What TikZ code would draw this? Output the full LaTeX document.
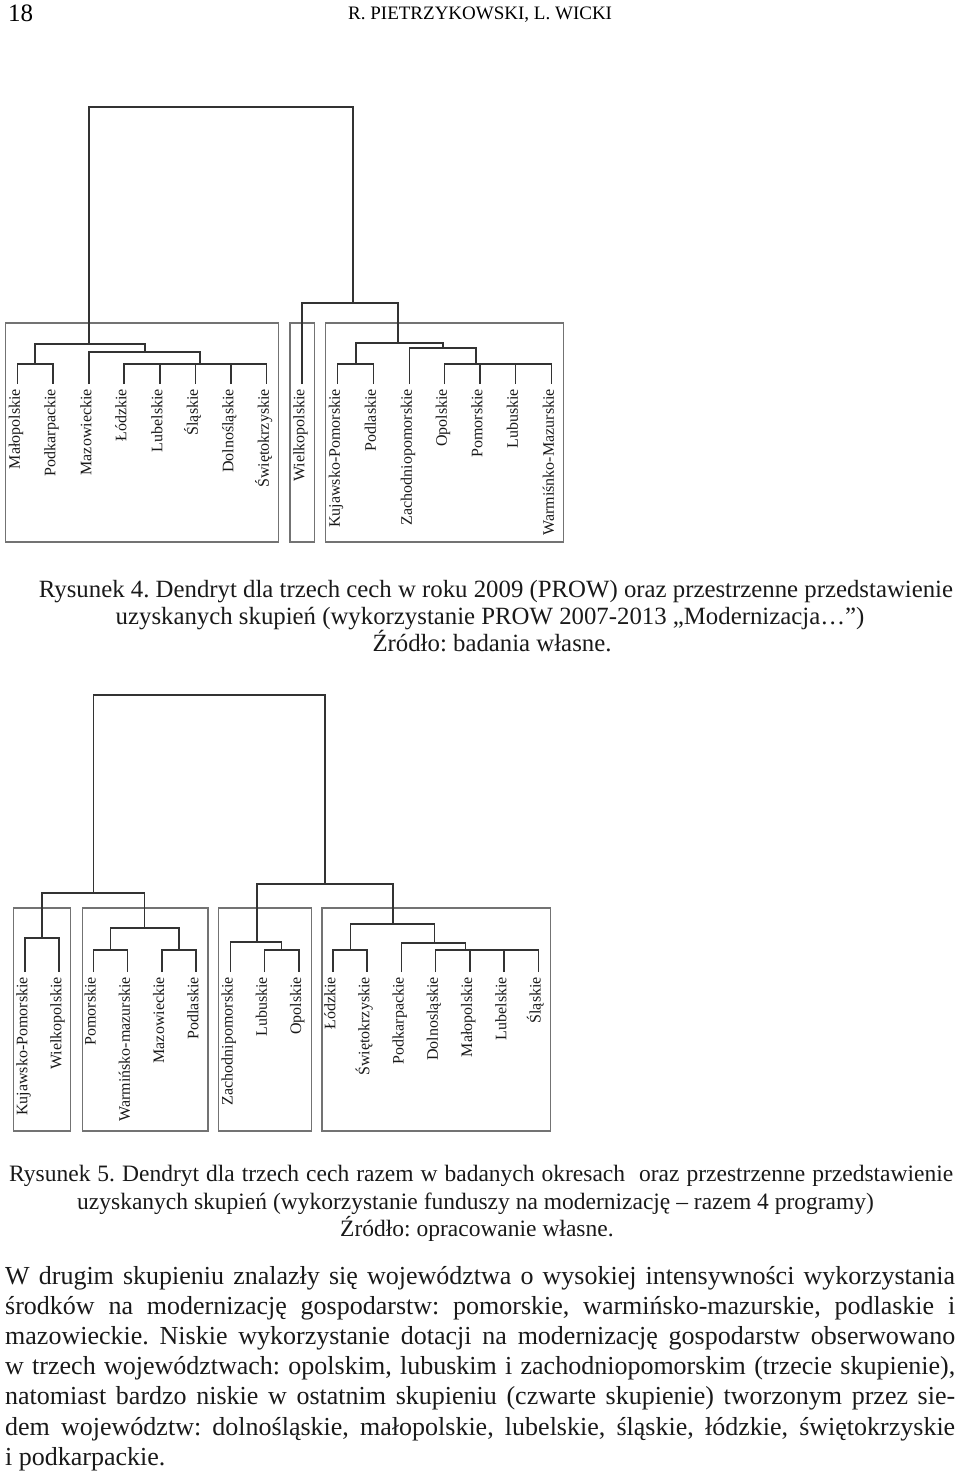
\documentclass[tikz,border=0pt]{standalone}
\usepackage{fontspec}
\setmainfont{Liberation Serif}
\begin{document}
\frenchspacing
\begin{tikzpicture}[x=1pt,y=-1pt,
  dend/.style={draw=black!80, line width=1.5pt},
  clbox/.style={draw=black!55, line width=1.4pt},
  lab/.style={rotate=90, anchor=mid east, inner sep=0pt, text=black!90, font=\fontsize{16}{18}\selectfont},
  captxt/.style={anchor=base, inner sep=0pt, text=black!90, font=\fontsize{24.8}{27}\selectfont},
  captxtb/.style={anchor=base west, inner sep=0pt, text=black!90, font=\fontsize{23.5}{27}\selectfont},
  bodytxt/.style={anchor=base west, inner sep=0pt, text=black!90, font=\fontsize{26}{30}\selectfont}]
\useasboundingbox (0,0) rectangle (960,1476);

% ---------- header ----------
\node[anchor=base west, inner sep=0pt, font=\fontsize{25}{25}\selectfont] (pg) at (8,21) {18};
\node[anchor=base west, inner sep=0pt, font=\fontsize{19}{19}\selectfont] (hd) at (348,19) {R. PIETRZYKOWSKI, L. WICKI};

% ---------- figure 4 ----------
\draw[clbox] (5.5,323) rectangle (278.5,542);
\draw[clbox] (290,323) rectangle (314.5,542);
\draw[clbox] (325.5,323) rectangle (563.5,542);

\foreach \i/\x/\t in {1/17.5/Małopolskie, 2/53/Podkarpackie, 3/89/Mazowieckie, 4/124/Łódzkie,
  5/160/Lubelskie, 6/195.5/Śląskie, 7/231/Dolnośląskie, 8/266.5/Świętokrzyskie,
  9/302/Wielkopolskie, 10/337.5/Kujawsko-Pomorskie, 11/373.5/Podlaskie, 12/409.5/Zachodniopomorskie,
  13/444.5/Opolskie, 14/480/Pomorskie, 15/515.5/Lubuskie, 16/551.5/Warmiśnko-Mazurskie}{
  \node[lab] (a\i) at (\x,389) {\t};
  \coordinate (pa\i) at (\x,384);
}
\coordinate (J1) at (35,364);
\coordinate (J2) at (200,364);
\coordinate (J3) at (145,352);
\coordinate (J4) at (89,344);
\coordinate (J5) at (356,364);
\coordinate (J6) at (476,364);
\coordinate (J7) at (443,348);
\coordinate (J8) at (398,343);
\coordinate (J9) at (353,303);
\coordinate (R1) at (221,107);

\draw[dend] (pa1) |- (J1) -| (pa2);
\draw[dend] (pa4) |- (J2) -| (pa8);
\foreach \k in {5,6,7} \draw[dend] (pa\k) -- (pa\k |- J2);
\draw[dend] (pa3) |- (J3) -| (J2);
\draw[dend] (J1) |- (J4) -| (J3);
\draw[dend] (pa10) |- (J5) -| (pa11);
\draw[dend] (pa13) |- (J6) -| (pa16);
\foreach \k in {14,15} \draw[dend] (pa\k) -- (pa\k |- J6);
\draw[dend] (pa12) |- (J7) -| (J6);
\draw[dend] (J5) |- (J8) -| (J7);
\draw[dend] (pa9) |- (J9) -| (J8);
\draw[dend] (J4) |- (R1) -| (J9);

% ---------- caption 4 ----------
\node[captxt] (c4a) at (496,597) {Rysunek 4. Dendryt dla trzech cech w roku 2009 (PROW) oraz przestrzenne przedstawienie};
\node[captxt] (c4b) at (490,624) {uzyskanych skupień (wykorzystanie PROW 2007-2013 „Modernizacja…”)};
\node[captxt] (c4c) at (492,651) {Źródło: badania własne.};

% ---------- figure 5 ----------
\draw[clbox] (13.5,908) rectangle (70.5,1131);
\draw[clbox] (82.5,908) rectangle (208,1131);
\draw[clbox] (218.5,908) rectangle (311.5,1131);
\draw[clbox] (322,908) rectangle (550.5,1131);

\foreach \i/\x/\t in {1/25/Kujawsko-Pomorskie, 2/59.2/Wielkopolskie, 3/93.4/Pomorskie, 4/127.7/Warmińsko-mazurskie,
  5/161.9/Mazowieckie, 6/196.1/Podlaskie, 7/230.3/Zachodnipomorskie, 8/264.5/Lubuskie,
  9/298.8/Opolskie, 10/333/Łódzkie, 11/367.2/Świętokrzyskie, 12/401.4/Podkarpackie,
  13/435.6/Dolnosląskie, 14/469.9/Małopolskie, 15/504.1/Lubelskie, 16/538.3/Śląskie}{
  \node[lab] (b\i) at (\x,977) {\t};
  \coordinate (pb\i) at (\x,972);
}
\coordinate (K1) at (42,938);
\coordinate (K2) at (110.5,950);
\coordinate (K3) at (179,950);
\coordinate (K4) at (144.5,928);
\coordinate (K5) at (93.5,893);
\coordinate (K6) at (281.5,950);
\coordinate (K7) at (257,942);
\coordinate (K8) at (350.5,950);
\coordinate (K9) at (465.5,950);
\coordinate (K10) at (434.5,943);
\coordinate (K11) at (393,924);
\coordinate (K12) at (325,884);
\coordinate (R2) at (209,695);

\draw[dend] (pb1) |- (K1) -| (pb2);
\draw[dend] (pb3) |- (K2) -| (pb4);
\draw[dend] (pb5) |- (K3) -| (pb6);
\draw[dend] (K2) |- (K4) -| (K3);
\draw[dend] (K1) |- (K5) -| (K4);
\draw[dend] (pb8) |- (K6) -| (pb9);
\draw[dend] (pb7) |- (K7) -| (K6);
\draw[dend] (pb10) |- (K8) -| (pb11);
\draw[dend] (pb13) |- (K9) -| (pb16);
\foreach \k in {14,15} \draw[dend] (pb\k) -- (pb\k |- K9);
\draw[dend] (pb12) |- (K10) -| (K9);
\draw[dend] (K8) |- (K11) -| (K10);
\draw[dend] (K7) |- (K12) -| (K11);
\draw[dend] (K5) |- (R2) -| (K12);

% ---------- caption 5 ----------
\node[captxtb] (c5a) at (9,1181) {\makebox[944pt][s]{Rysunek 5. Dendryt dla trzech cech razem w badanych okresach~ oraz przestrzenne przedstawienie}};
\node[captxtb] (c5b) at (77,1209) {uzyskanych skupień (wykorzystanie funduszy na modernizację – razem 4 programy)};
\node[captxtb] (c5c) at (340,1236) {Źródło: opracowanie własne.};

% ---------- body text ----------
\node[bodytxt] (t1) at (5,1284) {\makebox[950pt][s]{W drugim skupieniu znalazły się województwa o wysokiej intensywności wykorzystania}};
\node[bodytxt] (t2) at (5,1314) {\makebox[950pt][s]{środków na modernizację gospodarstw: pomorskie, warmińsko-mazurskie, podlaskie i}};
\node[bodytxt] (t3) at (5,1344) {\makebox[950pt][s]{mazowieckie. Niskie wykorzystanie dotacji na modernizację gospodarstw obserwowano}};
\node[bodytxt] (t4) at (5,1374) {\makebox[950pt][s]{w trzech województwach: opolskim, lubuskim i zachodniopomorskim (trzecie skupienie),}};
\node[bodytxt] (t5) at (5,1404) {\makebox[950pt][s]{natomiast bardzo niskie w ostatnim skupieniu (czwarte skupienie) tworzonym przez sie-}};
\node[bodytxt] (t6) at (5,1435) {\makebox[950pt][s]{dem województw: dolnośląskie, małopolskie, lubelskie, śląskie, łódzkie, świętokrzyskie}};
\node[bodytxt] (t7) at (5,1465) {i podkarpackie.};
\end{tikzpicture}
\end{document}
